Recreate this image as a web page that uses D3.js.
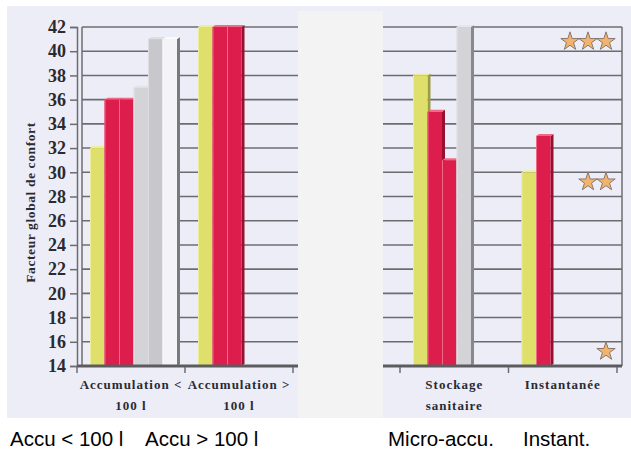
<!DOCTYPE html>
<html>
<head>
<meta charset="utf-8">
<script src="https://cdn.jsdelivr.net/npm/d3@7"></script>
<style>
  body { margin: 0; background: #fff; }
  svg { display: block; }
</style>
</head>
<body>
<div id="chart"></div>
<script>
// categories et valeurs
const categories = ["Accumulation < 100 l", "Accumulation > 100 l", "Stockage sanitaire", "Instantanée"];
const catLines = [["Accumulation <", "100 l"], ["Accumulation >", "100 l"], ["Stockage", "sanitaire"], ["Instantanée"]];
const seriesNames = ["jaune", "rouge1", "rouge2", "gris1", "gris2", "blanc"];
const valAccuMoins = [32, 36, 36, 37, 41, 41];
const valAccuPlus = [42, 42, 42, null, null, null];
const valStockage = [38, 35, 31, 42, null, null];
const valInstant = [30, 33, null, null, null, null];
const yTicks = [14, 16, 18, 20, 22, 24, 26, 28, 30, 32, 34, 36, 38, 40, 42];
const starLevels = [40.8, 29.2, 15.2];
const starCounts = [3, 2, 1];
const bottomLabels = ["Accu < 100 l", "Accu > 100 l", "Micro-accu.", "Instant."];

const W = 631, H = 452;
const serif = "'Liberation Serif', 'DejaVu Serif', serif";
const colors = {
    jaune: {f: "#dfe06c", s: "#9c9c46", t: "#eeee9a"},
    rouge1: {f: "#dd1d4b", s: "#971030", t: "#f06a88"},
    rouge2: {f: "#dd1d4b", s: "#971030", t: "#f06a88"},
    gris1: {f: "#d4d4d8", s: "#88888c", t: "#e6e6ea"},
    gris2: {f: "#c8c8cc", s: "#9a9a9e", t: "#dedee2"},
    blanc: {f: "#f4f4f8", s: "#7a7a7e", t: "#fafafa"}
};

const svg = d3.select("#chart").append("svg")
    .attr("width", W).attr("height", H);

// fond du scan
svg.append("rect").attr("x", 7).attr("y", 6).attr("width", W - 7).attr("height", 412)
    .attr("fill", "#ededf7");

const y = d3.scaleLinear().domain([14, 42]).range([366, 27]);
const xLeft = d3.scaleBand().domain(categories.slice(0, 2)).range([77, 293]);
const xRight = d3.scaleBand().domain(categories.slice(2)).range([400, 617]);
const xs = d3.scaleBand().domain(seriesNames).range([13, 100]);

const gridCol = "#6c6c70";

// grille gauche
svg.append("g").selectAll("line").data(yTicks).enter().append("line")
    .attr("x1", 82).attr("x2", 298)
    .attr("y1", d => y(d)).attr("y2", d => y(d))
    .attr("stroke", gridCol).attr("stroke-width", 1.6);
// grille droite
svg.append("g").selectAll("line").data(yTicks).enter().append("line")
    .attr("x1", 383).attr("x2", 622)
    .attr("y1", d => y(d)).attr("y2", d => y(d))
    .attr("stroke", gridCol).attr("stroke-width", 1.6);

// murs
svg.append("line").attr("x1", 82).attr("x2", 82).attr("y1", y(42)).attr("y2", y(14))
    .attr("stroke", gridCol).attr("stroke-width", 1.5);
svg.append("line").attr("x1", 622).attr("x2", 622).attr("y1", y(42)).attr("y2", y(14))
    .attr("stroke", gridCol).attr("stroke-width", 1.5);

// axe y
const yAxis = svg.append("g").attr("transform", "translate(77,0)")
    .call(d3.axisLeft(y).tickValues(yTicks).tickSize(7).tickPadding(4));
yAxis.select(".domain").attr("stroke", gridCol).attr("stroke-width", 1.5);
yAxis.selectAll(".tick line").attr("stroke", gridCol).attr("stroke-width", 1.5);
yAxis.selectAll(".tick text")
    .style("font-family", serif).style("font-weight", "bold").style("font-size", "18px")
    .attr("fill", "#2a2a32");

svg.append("text")
    .attr("transform", "translate(35," + ((y(42) + y(14)) / 2 + 6) + ") rotate(-90)")
    .attr("text-anchor", "middle")
    .style("font-family", serif).style("font-weight", "bold").style("font-size", "13.5px")
    .attr("letter-spacing", 0.6)
    .attr("fill", "#2a2a32")
    .text("Facteur global de confort");

// barres 3D
function drawGroup(xc, cat, vals) {
    const g = svg.append("g").attr("transform", "translate(" + xc(cat) + ",0)");
    const w = xs.bandwidth(), dx = 3, dy = 2, y0 = y(14);
    seriesNames.forEach((s, i) => {
        const v = vals[i];
        if (v == null) return;
        const x = xs(s), yt = y(v), c = colors[s];
        g.append("polygon")
            .attr("points", [[x + w, yt], [x + w + dx, yt - dy], [x + w + dx, y0 - dy], [x + w, y0]].join(" "))
            .attr("fill", c.s);
        g.append("polygon")
            .attr("points", [[x, yt], [x + dx, yt - dy], [x + w + dx, yt - dy], [x + w, yt]].join(" "))
            .attr("fill", c.t);
        g.append("rect").attr("x", x).attr("y", yt).attr("width", w).attr("height", y0 - yt)
            .attr("fill", c.f);
        g.append("line").attr("x1", x + 0.5).attr("x2", x + 0.5).attr("y1", yt).attr("y2", y0)
            .attr("stroke", c.t).attr("stroke-width", 1);
    });
}
drawGroup(xLeft, categories[0], valAccuMoins);
drawGroup(xLeft, categories[1], valAccuPlus);
drawGroup(xRight, categories[2], valStockage);
drawGroup(xRight, categories[3], valInstant);

// sol
svg.append("line").attr("x1", 77).attr("x2", 298).attr("y1", y(14)).attr("y2", y(14))
    .attr("stroke", "#5c5c60").attr("stroke-width", 3);
svg.append("line").attr("x1", 383).attr("x2", 622).attr("y1", y(14)).attr("y2", y(14))
    .attr("stroke", "#5c5c60").attr("stroke-width", 3);

// axes x
[[xLeft, categories.slice(0, 2), 0], [xRight, categories.slice(2), 2]].forEach(([xc, cats, off]) => {
    const ax = svg.append("g").attr("transform", "translate(0," + (y(14) + 1) + ")");
    const edges = cats.map(c => xc(c)).concat([xc.range()[1]]);
    ax.selectAll(".edge").data(edges).enter().append("line")
        .attr("x1", d => d).attr("x2", d => d).attr("y1", 0).attr("y2", 6)
        .attr("stroke", gridCol).attr("stroke-width", 1.5);
    cats.forEach((c, i) => {
        const t = ax.append("text")
            .attr("x", xc(c) + xc.bandwidth() / 2).attr("y", 22)
            .attr("text-anchor", "middle")
            .style("font-family", serif).style("font-weight", "bold").style("font-size", "13px")
            .attr("letter-spacing", 1).attr("fill", "#2a2a32");
        catLines[i + off].forEach((l, k) => {
            t.append("tspan").attr("x", xc(c) + xc.bandwidth() / 2).attr("dy", k ? 21 : 0).text(l);
        });
    });
});

// zone vide du milieu
svg.append("rect").attr("x", 298).attr("y", 11).attr("width", 85).attr("height", 407)
    .attr("fill", "#f3f3f4");

// étoiles
const star = d3.symbol().type(d3.symbolStar).size(105);
starLevels.forEach((lv, i) => {
    d3.range(starCounts[i]).forEach(k => {
        svg.append("path").attr("d", star)
            .attr("transform", "translate(" + (606 - k * 18) + "," + y(lv) + ")")
            .attr("fill", "#f2b46c").attr("stroke", "#8a7870").attr("stroke-width", 1);
    });
});

// légendes du bas
const bottomX = [10, 145, 388, 523];
svg.append("g").selectAll("text").data(bottomLabels).enter().append("text")
    .attr("x", (d, i) => bottomX[i]).attr("y", 446)
    .attr("font-family", "'Liberation Sans', Arial, sans-serif")
    .attr("font-size", 20.5).attr("fill", "#000")
    .text(d => d);
</script>
</body>
</html>
